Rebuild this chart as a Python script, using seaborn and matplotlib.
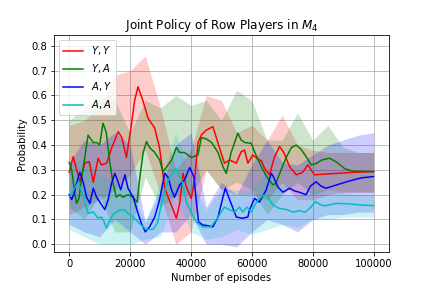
import numpy as np
import pandas as pd
import seaborn as sns
import matplotlib
matplotlib.use("Agg")
import matplotlib.pyplot as plt

# mean curves (episodes, probability)
yy_x = [0, 1300, 3500, 5100, 6600, 7900, 9500, 10600, 12300, 13900, 16100, 17300, 18800, 20400,
        21500, 22600, 24300, 25900, 28100, 29700, 31400, 32500, 34100, 35200, 36300, 37400, 38500,
        40100, 41200, 42300, 43400, 45000, 47200, 48900, 51000, 52700, 54900, 56500, 57600, 58700,
        60300, 62000, 63100, 64200, 65800, 67400, 69100, 70500, 72400, 74600, 76700, 78400, 80600,
        84000, 88000, 93000, 100000]
yy_y = [0.29, 0.353, 0.252, 0.327, 0.333, 0.25, 0.347, 0.32, 0.327, 0.387, 0.454, 0.43, 0.35, 0.48,
        0.58, 0.635, 0.575, 0.508, 0.468, 0.387, 0.226, 0.19, 0.14, 0.105, 0.165, 0.286, 0.23,
        0.185, 0.26, 0.41, 0.44, 0.46, 0.474, 0.407, 0.327, 0.34, 0.327, 0.373, 0.38, 0.327,
        0.36, 0.343, 0.337, 0.306, 0.28, 0.35, 0.394, 0.37, 0.313, 0.28, 0.29, 0.32, 0.28,
        0.283, 0.286, 0.29, 0.293]

ya_x = [0, 800, 1900, 2400, 3200, 4000, 5100, 6200, 7900, 9100, 10000, 11100, 12200, 13300, 14400,
        15500, 16600, 17700, 19300, 21000, 22300, 23200, 24300, 25400, 26400, 28100, 29700, 30800,
        31900, 33600, 35200, 36300, 37900, 40100, 42300, 43400, 45000, 46800, 48900, 50500, 51600,
        53200, 55400, 56500, 57800, 59800, 61000, 63100, 65000, 66900, 67900, 69600, 71300, 73000,
        74600, 76000, 77500, 79500, 81000, 83000, 85500, 88000, 90500, 93000, 100000]
ya_y = [0.33, 0.30, 0.20, 0.165, 0.185, 0.26, 0.35, 0.44, 0.41, 0.41, 0.40, 0.488, 0.45, 0.333, 0.246,
        0.19, 0.20, 0.19, 0.20, 0.19, 0.17, 0.27, 0.37, 0.414, 0.39, 0.37, 0.34, 0.293,
        0.31, 0.34, 0.39, 0.37, 0.37, 0.35, 0.36, 0.43, 0.425, 0.41, 0.37, 0.313, 0.286,
        0.37, 0.448, 0.42, 0.41, 0.407, 0.37, 0.313, 0.27, 0.24, 0.245, 0.30, 0.35, 0.39,
        0.40, 0.385, 0.36, 0.32, 0.325, 0.34, 0.347, 0.33, 0.305, 0.295, 0.293]

ay_x = [0, 800, 1600, 2400, 3500, 4600, 5700, 6800, 7900, 9000, 10600, 11700, 12800, 13900, 15000,
        15800, 16900, 18300, 19300, 21000, 22600, 23700, 25000, 26400, 28100, 29700, 31400, 32500,
        33600, 34600, 36300, 37900, 39600, 41000, 41700, 42500, 43900, 45600, 47200, 48900, 50500,
        51300, 52700, 54900, 56900, 58700, 59200, 60900, 62500, 64700, 66400, 67200, 68500, 70200,
        72400, 74000, 75600, 77800, 79300, 81100, 82700, 84400, 88000, 92000, 96000, 100000]
ay_y = [0.20, 0.18, 0.205, 0.246, 0.29, 0.25, 0.19, 0.165, 0.226, 0.19, 0.16, 0.14, 0.18, 0.246, 0.286,
        0.26, 0.22, 0.28, 0.226, 0.19, 0.125, 0.085, 0.05, 0.07, 0.11, 0.18, 0.286, 0.27,
        0.22, 0.19, 0.24, 0.26, 0.31, 0.27, 0.18, 0.09, 0.078, 0.075, 0.07, 0.11, 0.19,
        0.226, 0.18, 0.11, 0.105, 0.11, 0.138, 0.185, 0.17, 0.219, 0.286, 0.27, 0.232, 0.21,
        0.226, 0.215, 0.21, 0.20, 0.235, 0.252, 0.235, 0.226, 0.24, 0.255, 0.268, 0.273]

aa_x = [0, 1500, 3000, 4500, 6200, 7900, 9500, 10600, 11500, 12200, 13100, 14400, 16600, 18300,
        19300, 21000, 22600, 24300, 25500, 27500, 29000, 30300, 31900, 33000, 35000, 37000, 38500,
        40000, 41700, 43900, 46600, 48900, 51000, 52500, 54300, 56000, 57000, 58400, 59800, 62000,
        64200, 65300, 66900, 69000, 71500, 73400, 75600, 77500, 79000, 81000, 82500, 84000, 87700,
        92000, 96000, 100000]
aa_y = [0.19, 0.22, 0.25, 0.20, 0.125, 0.13, 0.105, 0.11, 0.09, 0.065, 0.09, 0.12, 0.138, 0.138,
        0.125, 0.11, 0.09, 0.07, 0.06, 0.06, 0.085, 0.165, 0.24, 0.27, 0.306, 0.26, 0.17,
        0.13, 0.09, 0.07, 0.07, 0.11, 0.15, 0.14, 0.13, 0.15, 0.13, 0.15, 0.13, 0.18,
        0.20, 0.19, 0.158, 0.145, 0.14, 0.13, 0.135, 0.13, 0.145, 0.172, 0.16, 0.155, 0.165,
        0.163, 0.158, 0.156]

# spread bands, sampled every 5000 episodes
band_x = [0, 5000, 10000, 15000, 20000, 25000, 30000, 35000, 40000, 45000, 50000,
          55000, 60000, 65000, 70000, 75000, 80000, 85000, 90000, 95000, 100000]
yy_lo = [0.12, 0.15, 0.18, 0.22, 0.28, 0.38, 0.20, 0.00, 0.05, 0.30, 0.22,
         0.20, 0.20, 0.18, 0.25, 0.18, 0.18, 0.20, 0.21, 0.21, 0.21]
yy_hi = [0.48, 0.50, 0.55, 0.68, 0.70, 0.76, 0.55, 0.30, 0.38, 0.60, 0.58,
         0.45, 0.48, 0.42, 0.52, 0.40, 0.38, 0.37, 0.37, 0.37, 0.37]
ya_lo = [0.15, 0.10, 0.20, 0.05, 0.05, 0.27, 0.15, 0.20, 0.20, 0.30, 0.22,
         0.25, 0.22, 0.12, 0.20, 0.25, 0.20, 0.22, 0.21, 0.21, 0.21]
ya_hi = [0.50, 0.55, 0.60, 0.58, 0.45, 0.58, 0.55, 0.60, 0.56, 0.58, 0.50,
         0.62, 0.58, 0.42, 0.42, 0.53, 0.42, 0.48, 0.39, 0.37, 0.37]
ay_lo = [0.08, 0.05, 0.03, 0.10, 0.05, 0.00, 0.05, 0.05, 0.12, 0.00, 0.00,
         -0.01, 0.05, 0.10, 0.08, 0.05, 0.10, 0.12, 0.12, 0.13, 0.13]
ay_hi = [0.33, 0.42, 0.40, 0.45, 0.40, 0.09, 0.22, 0.40, 0.45, 0.15, 0.25,
         0.20, 0.32, 0.42, 0.33, 0.32, 0.36, 0.40, 0.42, 0.44, 0.45]
aa_lo = [0.06, 0.03, 0.00, 0.00, 0.00, 0.02, 0.03, 0.20, 0.05, 0.02, 0.03,
         0.06, 0.04, 0.06, 0.08, 0.07, 0.10, 0.10, 0.11, 0.11, 0.11]
aa_hi = [0.32, 0.35, 0.28, 0.25, 0.22, 0.09, 0.25, 0.45, 0.25, 0.14, 0.22,
         0.22, 0.22, 0.30, 0.20, 0.20, 0.22, 0.22, 0.21, 0.20, 0.20]

labels = ["$Y,Y$", "$Y,A$", "$A,Y$", "$A,A$"]
colors = ["r", "g", "b", "c"]

series = [(yy_x, yy_y, yy_lo, yy_hi), (ya_x, ya_y, ya_lo, ya_hi),
          (ay_x, ay_y, ay_lo, ay_hi), (aa_x, aa_y, aa_lo, aa_hi)]

fig, ax = plt.subplots(figsize=(6, 4), dpi=72)
fig.subplots_adjust(left=0.125, right=0.9, top=0.878, bottom=0.125)

for (xs, ys, lo, hi), lab, col in zip(series, labels, colors):
    ax.fill_between(band_x, lo, hi, color=col, alpha=0.2, linewidth=0)
    df = pd.DataFrame({"episode": xs, "prob": ys})
    sns.lineplot(data=df, x="episode", y="prob", color=col, label=lab, ax=ax, linewidth=1.5)

ax.set_ylim(-0.031, 0.843)
ax.set_xlim(-5000, 105000)
ax.set_yticks(np.arange(0, 0.81, 0.1))
ax.grid(True)
ax.set_axisbelow(True)
ax.set_xlabel("Number of episodes")
ax.set_ylabel("Probability")
ax.set_title("Joint Policy of Row Players in $M_4$")
ax.legend(loc="upper left")

plt.savefig("out.png", dpi=72)
